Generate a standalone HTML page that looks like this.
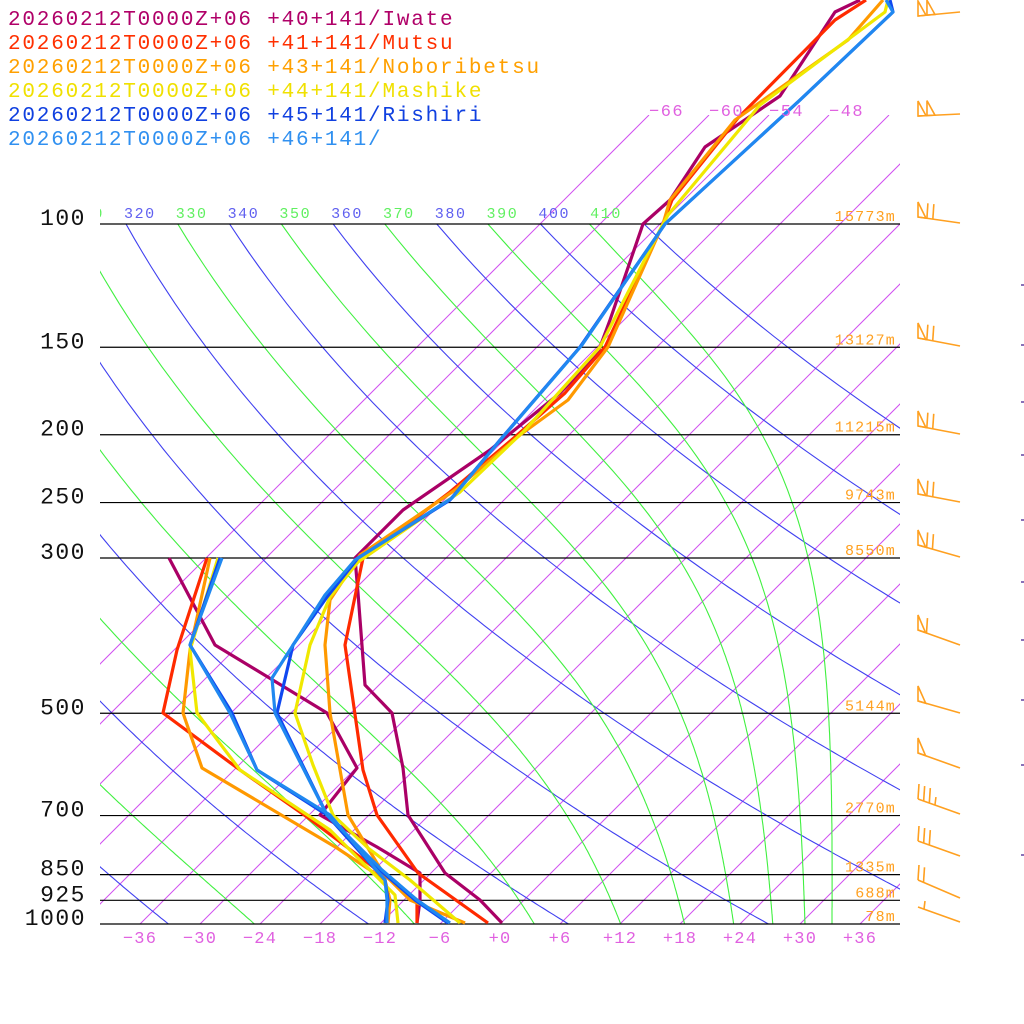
<!DOCTYPE html>
<html><head><meta charset="utf-8"><style>
html,body{margin:0;padding:0;background:#fff;}
svg{display:block;}
text{font-family:"Liberation Mono","DejaVu Sans Mono",monospace;}
</style></head><body>
<svg id="s" width="1024" height="1024" viewBox="0 0 1024 1024" xmlns="http://www.w3.org/2000/svg">
<defs>
<clipPath id="ciso"><rect x="100" y="115" width="800" height="809"/></clipPath>
<clipPath id="cad"><rect x="100" y="224" width="800" height="700"/></clipPath>
<clipPath id="clab"><rect x="100" y="190" width="800" height="40"/></clipPath>
</defs>
<g id="grid"></g>
<g id="prof"></g>
<g id="barbs" stroke="#ffa020" stroke-width="1.6" fill="none"></g>
<g id="txt"></g>
</svg>
<script>
var NS="http://www.w3.org/2000/svg";
function el(tag,attrs,parent,txt){var e=document.createElementNS(NS,tag);for(var k in attrs)e.setAttribute(k,attrs[k]);if(txt!==undefined)e.textContent=txt;parent.appendChild(e);return e;}
function Y(p){return 924-700*Math.log10(1000/p);}
function X(T,p){return 500+10*T+700*Math.log10(1000/p);}
var grid=document.getElementById('grid'),txt=document.getElementById('txt'),prof=document.getElementById('prof');
var gi=el('g',{'clip-path':'url(#ciso)',stroke:'#d050f0','stroke-width':'1',fill:'none'},grid);
for(var T=-66;T<=40;T+=6){var x0=500+10*T;el('line',{x1:x0,y1:924,x2:x0+809,y2:115},gi);}
var ga=el('g',{'clip-path':'url(#cad)',fill:'none','stroke-width':'1.1'},grid);
function pts(f){var s=[];for(var p=1000;p>=99;p-=5){var T=f(p);s.push(X(T,p).toFixed(1)+','+Y(p).toFixed(1));}return s.join(' ');}
for(var th=160;th<=420;th+=20){(function(th){el('polyline',{points:pts(function(p){return th*Math.pow(p/1000,0.2857)-273.15;}),stroke:'#4040f0'},ga);})(th);}
function the(Tc,p){var T=Tc+273.15;var es=6.112*Math.exp(17.67*Tc/(Tc+243.5));var rs=0.622*es/Math.max(p-es,1);var th=T*Math.pow(1000/p,0.2857);return th*Math.exp(2675*rs/T);}
function solve(te,p){var lo=-160,hi=60;for(var i=0;i<50;i++){var m=(lo+hi)/2;if(the(m,p)>te)hi=m;else lo=m;}return (lo+hi)/2;}
for(var te=170;te<=410;te+=20){(function(te){el('polyline',{points:pts(function(p){return solve(te,p);}),stroke:'#40f040'},ga);})(te);}
var gl=el('g',{'clip-path':'url(#clab)'},txt);
for(var th=310;th<=410;th+=10){var x=X(th*Math.pow(0.1,0.2857)-273.15,100);el('text',{x:x-2,y:218,'font-size':'15','letter-spacing':'1.6',fill:(th%20==0)?'#6060f0':'#60f060'},gl,String(th));}
var P=[[100,'15773m'],[150,'13127m'],[200,'11215m'],[250,'9743m'],[300,'8550m'],[500,'5144m'],[700,'2770m'],[850,'1335m'],[925,'688m'],[1000,'78m']];
P.forEach(function(a){var y=Y(a[0]);el('line',{x1:100,y1:y,x2:900,y2:y,stroke:'#000','stroke-width':'1.2'},grid);
el('text',{x:86,y:y+1,'text-anchor':'end','font-size':'23','letter-spacing':'1.5',fill:'#111'},txt,String(a[0]));
el('text',{x:896,y:y-3,'text-anchor':'end','font-size':'15','letter-spacing':'1.2',fill:'#ffa020'},txt,a[1]);});
for(var T=-36;T<=36;T+=6){var s=T<0?'\u2212'+(-T):'+'+T;el('text',{x:500+10*T,y:943,'text-anchor':'middle','font-size':'17','letter-spacing':'1.2',fill:'#e060e0'},txt,s);}
[-66,-60,-54,-48].forEach(function(T){el('text',{x:500+10*T+809,y:116,'font-size':'17','letter-spacing':'1.5',fill:'#e060e0'},txt,'\u2212'+(-T));});
var L=[['#b00068','20260212T0000Z+06 +40+141/Iwate'],['#ff3000','20260212T0000Z+06 +41+141/Mutsu'],['#ffa000','20260212T0000Z+06 +43+141/Noboribetsu'],['#f0e000','20260212T0000Z+06 +44+141/Mashike'],['#1040e0','20260212T0000Z+06 +45+141/Rishiri'],['#3090f0','20260212T0000Z+06 +46+141/']];
L.forEach(function(a,i){el('text',{x:8,y:25+24*i,'font-size':'21','letter-spacing':'1.8',fill:a[0]},txt,a[1]);});
var PR=[
['#aa0066','860,0 835,12 780,96 705,147 670,200 643,224 610,320 597,355 560,393 490,450 403,510 355,558 358,593 365,685 392,713 403,768 408,815 445,873 480,900 502,923'],
['#aa0066','169,558 215,645 327,713 357,768 320,815 377,847 420,873 420,900 417,923'],
['#ff2a00','866,0 835,20 738,118 672,200 663,224 605,347 565,393 515,437 450,492 363,558 357,587 345,645 363,770 377,815 418,873 488,923'],
['#ff2a00','207,558 177,650 163,713 240,770 307,817 417,900 417,923'],
['#ff9900','883,0 848,40 735,120 670,200 663,224 608,347 568,400 520,435 455,490 360,555 330,600 325,645 330,713 348,815 383,873 410,900 465,923'],
['#ff9900','210,558 190,650 183,713 202,768 337,848 385,880 390,900 388,923'],
['#f0e800','888,0 885,12 760,105 668,215 663,224 600,347 525,430 460,492 358,562 330,597 310,645 295,713 313,765 333,815 368,848 410,880 460,923'],
['#f0e800','218,558 190,650 197,713 240,770 330,830 395,895 398,923'],
['#1048f0','890,0 893,12 800,100 665,224 580,347 500,440 450,500 358,558 327,597 293,645 277,713 327,815 380,870 415,900 448,923'],
['#1048f0','220,558 190,645 232,713 257,770 327,815 385,880 388,900 385,923'],
['#2088f0','886,0 893,12 800,100 665,224 582,345 502,438 452,498 355,560 325,595 272,678 275,713 327,815 382,870 417,900 450,923'],
['#2088f0','222,558 190,645 230,713 257,770 330,815 385,880 387,900 387,923']];
PR.forEach(function(a){el('polyline',{points:a[1],stroke:a[0],'stroke-width':'3.2',fill:'none','stroke-linejoin':'round'},prof);});
var gb=document.getElementById('barbs');
var B=[[12,16,'FF'],[114,116,'FF'],[223,217,'FBB'],[346,338,'FBB'],[434,426,'FBB'],[502,494,'FBB'],[557,545,'FBB'],[645,630,'FB'],[713,701,'F'],[768,753,'F'],[814,799,'BBBh'],[856,841,'BBB'],[898,880,'BB'],[922,907,'h']];
B.forEach(function(b){var xr=960,xl=918,yr=b[0],yl=b[1];el('line',{x1:xr,y1:yr,x2:xl,y2:yl},gb);
var dx=(xr-xl),dy=(yr-yl),len=Math.sqrt(dx*dx+dy*dy),ux=dx/len,uy=dy/len;var pos=0;
for(var i=0;i<b[2].length;i++){var c=b[2][i];var px=xl+ux*pos,py=yl+uy*pos;
if(c=='F'){var qx=xl+ux*(pos+8),qy=yl+uy*(pos+8);el('polygon',{points:px+','+py+' '+px+','+(py-15)+' '+qx+','+qy},gb);pos+=9;}
else if(c=='B'){el('line',{x1:px,y1:py,x2:px+1,y2:py-15},gb);pos+=6;}
else{var o=(b[2].length==1?6:0);el('line',{x1:px+o,y1:py+uy*o,x2:px+o+1,y2:py+uy*o-8},gb);pos+=6;}}
});
[285,345,402,455,520,582,640,700,765,855].forEach(function(y){el('line',{x1:1021,y1:y,x2:1024,y2:y,stroke:'#6040a0','stroke-width':'1.5'},grid);});
</script>
</body></html>
